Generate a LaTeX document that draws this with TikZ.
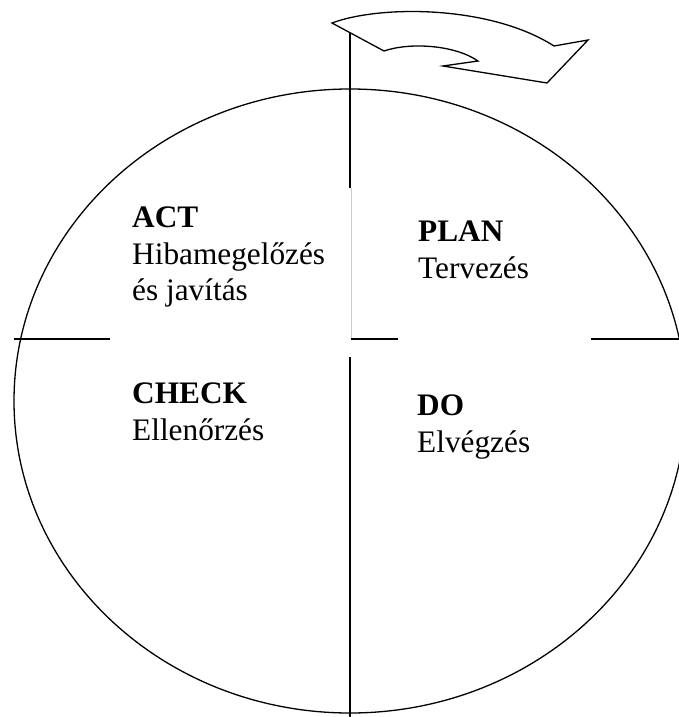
\documentclass[tikz,border=0pt]{standalone}
\usepackage{fontspec}
\setmainfont{Liberation Serif}
\begin{document}
\begin{tikzpicture}[x=1pt,y=-1pt,
  line/.style={line width=1.3pt,black},
  faint/.style={line width=0.6pt,black!20},
  label/.style={inner sep=0pt,anchor=base west,font=\fontsize{31.3}{37}\selectfont},
  head/.style={label,font=\fontsize{31.3}{37}\selectfont\bfseries}]
\useasboundingbox (0,0) rectangle (679,717);
\clip (0,0) rectangle (679,717);

% the cycle
\draw[line] (350,401) ellipse [x radius=336pt, y radius=312pt];

% dividing lines
\draw[line] (350,33) -- (350,188);
\draw[faint] (351,188) -- (351,339);
\draw[line] (350,357) -- (350,717);
\draw[line] (14,339) -- (110,339);
\draw[line] (351,339) -- (398,339);
\draw[line] (591,339) -- (679,339);

% curved block arrow showing the direction of the cycle
\draw[line,line join=miter,fill=white]
  (332,23) .. controls (380,5) and (490,5) .. (554,46)
  -- (588,40) -- (547,83) -- (443,66) -- (478,61)
  .. controls (455,45) and (410,42) .. (384,51) -- cycle;

% quadrant texts
\node[head]  (act)   at (132,227) {ACT};
\node[label] (actA)  at (132,264) {Hibamegelőzés};
\node[label] (actB)  at (132,300) {és javítás};
\node[head]  (plan)  at (418,241) {PLAN};
\node[label] (planA) at (418,278) {Tervezés};
\node[head]  (check) at (132,403) {CHECK};
\node[label] (checkA) at (132,440) {Ellenőrzés};
\node[head]  (do)    at (417,415) {DO};
\node[label] (doA)   at (417,452) {Elvégzés};
\end{tikzpicture}
\end{document}
